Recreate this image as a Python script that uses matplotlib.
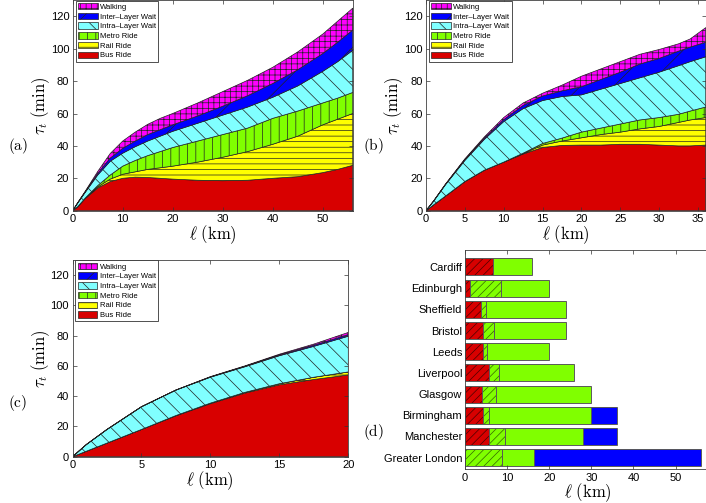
import numpy as np
import matplotlib
matplotlib.use('Agg')
import matplotlib.pyplot as plt
from matplotlib.patches import Patch

plt.rcParams['font.family'] = ['Liberation Sans', 'DejaVu Sans']
plt.rcParams['mathtext.fontset'] = 'cm'
plt.rcParams['hatch.linewidth'] = 0.5

# travel modes, bottom of the stack first
modes = ['Bus Ride', 'Rail Ride', 'Metro Ride', 'Intra–Layer Wait', 'Inter–Layer Wait', 'Walking']
mode_colors = ['#d80000', '#ffff00', '#80ff00', '#80ffff', '#0000ff', '#ff00ff']
mode_hatches = ['', '---', '||', '\\\\', '/', '+++']

# panel (a) - time per mode (min) vs distance (km)
dist_a = [0, 1, 2.5, 5, 7.5, 10, 12.5, 15, 17.5, 20, 25, 30, 35, 40, 45, 50, 53, 56]
bus_a = [0, 2.5, 7.5, 14, 18, 20, 20.7, 20.5, 20, 19.5, 18.8, 18.5, 18.8, 20, 21, 23.5, 25.5, 28]
rail_a = [0, 0, 0.1, 0.7, 1.5, 2.5, 3.3, 5, 6.5, 8, 11.2, 14.5, 17.7, 21, 25, 29.5, 31, 32]
metro_a = [0, 0, 0.2, 0.8, 2.5, 5, 7, 8.5, 10, 11.5, 13, 14, 14.5, 16, 15.5, 13.5, 13, 13]
intra_a = [0, 2.2, 3.5, 6.5, 8.5, 8, 8.5, 9, 9.5, 10, 11, 12, 13, 13, 15.5, 19.5, 22.5, 26]
inter_a = [0, 0.1, 0.3, 1, 2, 3, 3.5, 4, 4, 4, 4.5, 5.5, 7, 8.5, 10, 11, 12, 12.5]
walk_a = [0, 0.2, 0.4, 1.2, 2.8, 4.5, 5.5, 6.3, 7, 7, 8, 9, 9.5, 10, 11, 12, 13, 13.5]

# panel (b)
dist_b = [0, 1, 2.5, 5, 7.5, 10, 12.5, 15, 17.5, 20, 22.5, 25, 27.5, 30, 32.5, 34, 36]
bus_b = [0, 3.7, 9, 18, 25, 30, 35, 39, 40.3, 40.5, 40.5, 41, 41, 40.5, 40, 40, 40.5]
rail_b = [0, 0, 0, 0, 0, 0, 0.2, 1.5, 2.7, 4.5, 6.5, 7.5, 9.5, 11.5, 14.5, 16, 17]
metro_b = [0, 0, 0, 0, 0, 0, 0.3, 1, 1.8, 3.5, 4, 5, 5.5, 5.5, 5, 5.5, 6.5]
intra_b = [0, 2.3, 7, 13, 19, 25, 27.5, 26.5, 25.7, 23, 24, 25, 26, 28, 30, 30.5, 31]
inter_b = [0, 0.1, 0.2, 0.5, 0.8, 1.2, 2, 2.8, 3.5, 5, 6, 7, 8.5, 8.5, 9, 9, 9]
walk_b = [0, 0.1, 0.2, 0.5, 0.7, 1.3, 1.5, 1.7, 3.5, 6.5, 6.5, 6.5, 6, 5.5, 4.5, 5, 9]

# panel (c)
dist_c = [0, 1, 2.5, 5, 7.5, 10, 12.5, 15, 17.5, 20]
bus_c = [0, 3.6, 9, 18, 27, 35, 42, 47.5, 51, 54]
rail_c = [0, 0, 0, 0, 0.2, 0.4, 0.5, 0.7, 1.5, 2]
metro_c = [0, 0, 0, 0, 0, 0, 0, 0, 0, 0]
intra_c = [0, 4.4, 9, 15, 16.8, 17.1, 16.9, 18.5, 20.4, 23.6]
inter_c = [0, 0, 0, 0, 0, 0.2, 0.3, 0.5, 0.8, 1]
walk_c = [0, 0, 0, 0, 0.1, 0.2, 0.3, 0.5, 0.7, 1.5]

# panel (d) - distance extents (km) of each segment, bottom bar first
cities = ['Greater London', 'Manchester', 'Birmingham', 'Glasgow', 'Liverpool',
          'Leeds', 'Bristol', 'Sheffield', 'Edinburgh', 'Cardiff']
red_end = [0, 5.8, 4.2, 4.0, 5.8, 4.2, 4.35, 3.7, 1.2, 6.7]
hatched_end = [8.7, 9.4, 5.8, 7.3, 8.1, 5.2, 6.8, 5.0, 8.5, 6.7]
green_end = [16.4, 28.0, 29.9, 30, 26, 20, 24, 24, 20, 16]
blue_end = [56, 36, 36, 30, 26, 20, 24, 24, 20, 16]

xlabel = r'$\ell\ (\mathrm{km})$'
ylabel = r'$\tau_t\ (\mathrm{min})$'
W, H = 706, 503


def px_axes(fig, left, top, right, bottom):
    return fig.add_axes([left / W, 1 - bottom / H, (right - left) / W, (bottom - top) / H])


def style_axes(ax):
    ax.tick_params(direction='in', length=3, width=0.5, top=True, right=True,
                   labelsize=8, pad=2.5, color='0.2')
    for s in ax.spines.values():
        s.set_linewidth(0.6)
        s.set_color('0.25')


def draw_stack(ax, dist, layers, xmax, xticks):
    base = np.zeros(len(dist))
    for vals, color, hatch in zip(layers, mode_colors, mode_hatches):
        top = base + np.array(vals)
        ax.fill_between(dist, base, top, facecolor=color, hatch=hatch,
                        edgecolor='#222222', linewidth=0.5)
        base = top
    ax.set_xlim(0, xmax)
    ax.set_ylim(0, 130)
    ax.set_xticks(xticks)
    ax.set_yticks(range(0, 121, 20))
    ax.set_xlabel(xlabel, fontsize=12, labelpad=-1)
    ax.set_ylabel(ylabel, fontsize=12, labelpad=-1)
    style_axes(ax)
    handles = [Patch(facecolor=c, hatch=h, edgecolor='#222222', linewidth=0.5)
               for c, h in zip(mode_colors, mode_hatches)][::-1]
    leg = ax.legend(handles, modes[::-1], loc='upper left', bbox_to_anchor=(0.01, 0.997),
                    fontsize=5.5, handlelength=2.6, handleheight=0.9, handletextpad=0.3,
                    labelspacing=0.25, borderpad=0.3, borderaxespad=0, fancybox=False,
                    framealpha=1)
    leg.get_frame().set_edgecolor('0.2')
    leg.get_frame().set_linewidth(0.6)


fig = plt.figure(figsize=(W / 100, H / 100), dpi=100)

ax_a = px_axes(fig, 72.7, 0.1, 352.7, 210.7)
draw_stack(ax_a, dist_a, [bus_a, rail_a, metro_a, intra_a, inter_a, walk_a], 56, range(0, 51, 10))

ax_b = px_axes(fig, 426, 0.1, 705.7, 210.7)
draw_stack(ax_b, dist_b, [bus_b, rail_b, metro_b, intra_b, inter_b, walk_b], 36, range(0, 36, 5))

ax_c = px_axes(fig, 72.5, 259.9, 348.3, 456.7)
draw_stack(ax_c, dist_c, [bus_c, rail_c, metro_c, intra_c, inter_c, walk_c], 20, range(0, 21, 5))

# panel (d)
ax_d = px_axes(fig, 465, 250, 465 + 60 * 4.21, 469.3)
ypos = np.arange(1, len(cities) + 1)
red = np.array(red_end)
hat = np.array(hatched_end)
grn = np.array(green_end)
blu = np.array(blue_end)
bh = 0.8
ax_d.barh(ypos, red, left=0, height=bh, color='#d80000', hatch='////', edgecolor='#4a0000', linewidth=0)
ax_d.barh(ypos, hat - red, left=red, height=bh, color='#80ff00', hatch='////', edgecolor='#336600', linewidth=0)
ax_d.barh(ypos, grn - hat, left=hat, height=bh, color='#80ff00', linewidth=0)
ax_d.barh(ypos, blu - grn, left=grn, height=bh, color='#0000ff', linewidth=0)
for start, end in [(0, red), (red, hat), (hat, grn), (grn, blu)]:
    w = np.array(end) - np.array(start)
    keep = w > 0
    ax_d.barh(ypos[keep], w[keep], left=np.broadcast_to(start, w.shape)[keep], height=bh,
              facecolor='none', edgecolor='0.35', linewidth=0.7)
ax_d.set_xlim(0, 60)
ax_d.set_ylim(0.45, 10.8)
ax_d.set_xticks(range(0, 51, 10))
ax_d.set_yticks(ypos)
ax_d.set_yticklabels(cities)
ax_d.set_xlabel(xlabel, fontsize=12, labelpad=-1)
ax_d.xaxis.set_label_coords(0.485, -0.055, transform=ax_d.transAxes)
ax_d.xaxis.label.set_va('top')
style_axes(ax_d)
ax_d.tick_params(axis='y', length=0, pad=2)

# panel letters
for x, y, s in [(18, 146, 'a'), (373, 146, 'b'), (18, 403, 'c'), (373, 432, 'd')]:
    fig.text(x / W, 1 - y / H, r'$\mathrm{(' + s + ')}$', fontsize=11, ha='center', va='center')

fig.savefig('out.png', dpi=100)
